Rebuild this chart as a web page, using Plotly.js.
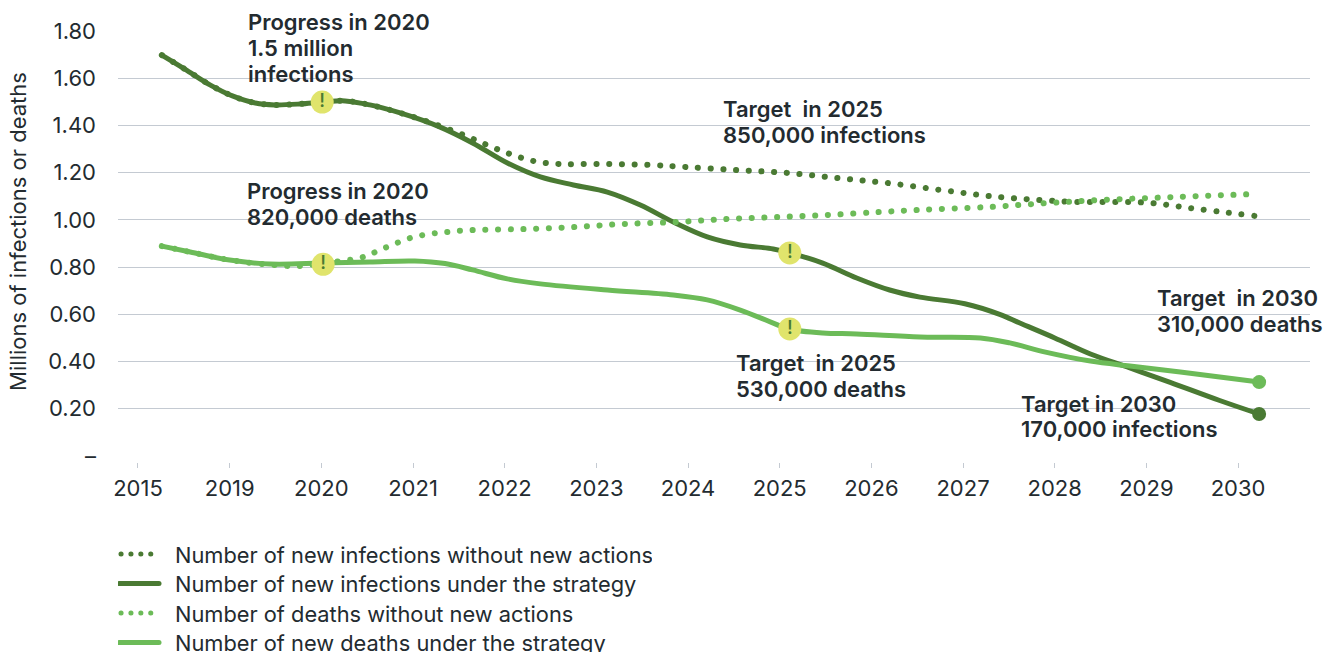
<!DOCTYPE html>
<html><head><meta charset="utf-8">
<script src="https://cdn.plot.ly/plotly-3.0.1.min.js"></script>
<style>html,body{margin:0;padding:0;background:#fff;overflow:hidden}</style>
</head><body><div id="chart" style="width:1339px;height:652px"></div>
<script>
const tickLabels = ['2015','2019','2020','2021','2022','2023','2024','2025','2026','2027','2028','2029','2030'];
const tickPositions = [0,1,2,3,4,5,6,7,8,9,10,11,12];
const yTicks = [0,0.2,0.4,0.6,0.8,1.0,1.2,1.4,1.6,1.8];
const yTickLabels = ['–','0.20','0.40','0.60','0.80','1.00','1.20','1.40','1.60','1.80'];

const infStratX = [0.26,0.51,0.79,1.03,1.28,1.49,1.77,2.01,2.26,2.53,2.86,3.29,3.65,4.03,4.39,4.75,5.12,5.48,5.84,6.21,6.57,6.93,7.11,7.47,7.84,8.20,8.53,9.02,9.40,9.62,10.0,10.39,10.82,11.26,11.80,12.23];
const infStratY = [1.698,1.639,1.571,1.525,1.495,1.487,1.491,1.499,1.504,1.487,1.453,1.394,1.326,1.241,1.182,1.148,1.118,1.063,0.991,0.928,0.894,0.877,0.860,0.817,0.754,0.703,0.673,0.645,0.600,0.563,0.500,0.432,0.373,0.312,0.235,0.178];
const infBaseX = [0.26,0.51,0.79,1.03,1.28,1.49,1.77,2.01,2.26,2.53,2.86,3.19,3.55,3.81,4.06,4.32,4.59,5.01,5.56,5.98,6.53,7.08,7.64,8.18,8.75,9.29,9.84,10.22,10.60,11.04,11.48,12.18];
const infBaseY = [1.698,1.639,1.571,1.525,1.495,1.487,1.491,1.499,1.504,1.487,1.453,1.412,1.360,1.317,1.279,1.249,1.237,1.237,1.233,1.224,1.211,1.199,1.177,1.156,1.127,1.101,1.084,1.076,1.076,1.072,1.050,1.017];
const deathStratX = [0.26,0.57,1.00,1.44,2.01,2.53,3.02,3.35,3.65,4.03,4.39,5.12,5.84,6.21,6.57,6.93,7.10,7.47,7.84,8.53,9.19,9.51,9.90,10.39,10.82,11.37,12.23];
const deathStratY = [0.889,0.864,0.830,0.813,0.817,0.822,0.826,0.815,0.788,0.750,0.729,0.703,0.682,0.661,0.618,0.563,0.538,0.521,0.517,0.504,0.500,0.479,0.440,0.402,0.381,0.356,0.313];
const deathBaseX = [0.26,0.57,1.00,1.44,1.77,2.01,2.42,2.69,2.97,3.19,3.38,3.65,4.21,4.77,5.31,5.88,6.43,6.97,7.53,8.08,8.50,9.29,9.95,10.49,11.04,11.58,12.22];
const deathBaseY = [0.889,0.864,0.830,0.810,0.805,0.817,0.839,0.881,0.923,0.941,0.949,0.957,0.961,0.970,0.983,0.991,1.004,1.012,1.021,1.033,1.042,1.055,1.072,1.084,1.093,1.101,1.110];

const flagX = [2.01,2.02,7.11,7.11];
const flagY = [1.499,0.812,0.860,0.538];
const endInfX = [12.23], endInfY = [0.178];
const endDeathX = [12.23], endDeathY = [0.313];

const noteTexts = ['Progress in 2020','1.5 million','infections','Progress in 2020','820,000 deaths','Target  in 2025','850,000 infections','Target  in 2025','530,000 deaths','Target in 2030','170,000 infections','Target  in 2030','310,000 deaths'];
const noteX = [1.19,1.19,1.19,1.18,1.18,6.37,6.37,6.51,6.51,9.62,9.62,11.11,11.11];
const noteY = [1.838,1.728,1.618,1.122,1.012,1.470,1.360,0.394,0.284,0.220,0.114,0.669,0.559];

const dark = '#4a7a33', light = '#6cbb58', ink = '#232b30';
const dotted = '0.1px,12.6px';
const font = 'Inter, sans-serif';
const yDomain = [6/431,1], yMax = 1.8;

function curve(name, x, y, color, dash, width) {
  return {type:'scatter', mode:'lines', name, x, y, hoverinfo:'skip',
    line:{color, width, dash, shape:'spline', smoothing:1}};
}
const traces = [
  curve('Number of new infections without new actions', infBaseX, infBaseY, dark, dotted, 6),
  curve('Number of new infections under the strategy', infStratX, infStratY, dark, 'solid', 5),
  curve('Number of deaths without new actions', deathBaseX, deathBaseY, light, dotted, 6),
  curve('Number of new deaths under the strategy', deathStratX, deathStratY, light, 'solid', 5),
  {type:'scatter', mode:'markers', x:endInfX, y:endInfY, showlegend:false, hoverinfo:'skip', marker:{color:dark,size:14}},
  {type:'scatter', mode:'markers', x:endDeathX, y:endDeathY, showlegend:false, hoverinfo:'skip', marker:{color:light,size:14}},
  {type:'scatter', mode:'markers+text', x:flagX, y:flagY, text:['!','!','!','!'], textposition:'middle center',
    textfont:{family:font,size:19,color:dark,weight:500}, showlegend:false, hoverinfo:'skip',
    marker:{color:'#e0e46c',size:23}}
];
// an annotation beyond the axis range would be hidden, so it goes through the paper scale
const annotations = noteTexts.map((text,i)=>{
  const over = noteY[i] > yMax;
  return {x:noteX[i], xref:'x', yref: over ? 'paper' : 'y',
    y: over ? yDomain[0] + (noteY[i]/yMax)*(yDomain[1]-yDomain[0]) : noteY[i],
    text, showarrow:false, xanchor:'left', yanchor:'middle', align:'left', borderpad:0,
    font:{family:font,size:22,color:ink,weight:600}};
});
const layout = {
  width:1339, height:652, paper_bgcolor:'#fff', plot_bgcolor:'#fff',
  font:{family:font,size:22,color:ink}, showlegend:true,
  margin:{l:118,r:29,t:31,b:190,pad:0,autoexpand:false},
  xaxis:{range:[-0.218,12.785], tickvals:tickPositions, ticktext:tickLabels, showgrid:false, zeroline:false, showline:false,
    anchor:'free', position:0, ticks:'outside', ticklen:5, tickwidth:1, tickcolor:'#c4cad2', ticklabelstandoff:2,
    tickfont:{family:font,size:22,color:ink}},
  yaxis:{range:[0,yMax], domain:yDomain, tickvals:yTicks, ticktext:yTickLabels, showgrid:true, gridcolor:'#c4cad2', gridwidth:1,
    zeroline:false, showline:false, ticks:'', ticklabelstandoff:21, tickfont:{family:font,size:22,color:ink},
    title:{text:'Millions of infections or deaths', font:{family:font,size:22,color:ink}, standoff:14}},
  legend:{x:0,xanchor:'left',xref:'paper',y:-0.181,yanchor:'top',yref:'paper',orientation:'v',traceorder:'normal',
    font:{family:font,size:21.8,color:ink},itemwidth:40,tracegroupgap:0,maxheight:200,bgcolor:'rgba(0,0,0,0)',borderwidth:0},
  annotations
};
const gd = document.getElementById('chart');
const rowGap = 29.5;
function polish(){
  gd.querySelectorAll('.js-line, .legendlines path').forEach(p=>{p.style.strokeLinecap='round';});
  gd.querySelectorAll('.legend .traces').forEach((t,i)=>{
    t.setAttribute('transform','translate(-4,'+(14+i*rowGap)+')');
    const label=t.querySelector('.legendtext'); if(label) label.style.transform='translate(11px,0)';
    if(i%2===0){ const l=t.querySelector('.legendlines path'); if(l){ l.style.strokeDasharray='0.1px,9.8px'; l.style.strokeDashoffset='-2px'; l.style.strokeWidth='5px'; } }
  });
  const yt=gd.querySelector('.ytitle');
  if(yt){
    if(!yt.dataset.base) yt.dataset.base = yt.getAttribute('transform')||'';
    yt.setAttribute('transform','translate(-1,-12) '+yt.dataset.base);
  }
}
Plotly.newPlot(gd, traces, layout, {displayModeBar:false, responsive:false}).then(()=>{ polish(); gd.on('plotly_afterplot', polish); });
</script></body></html>
